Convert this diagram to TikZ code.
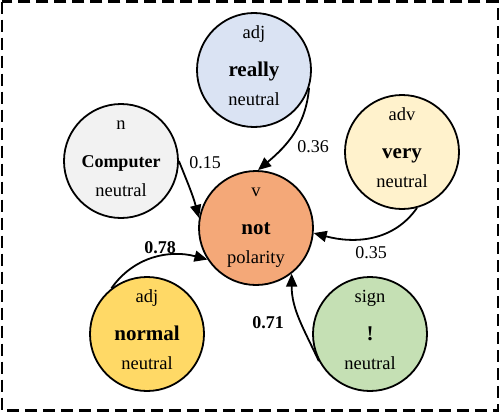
\documentclass[tikz,border=0pt]{standalone}
\usepackage{fontspec}
\setmainfont{Liberation Serif}
\usetikzlibrary{arrows.meta}
\definecolor{cgray}{HTML}{F2F2F2}
\definecolor{cblue}{HTML}{DAE3F3}
\definecolor{cyel}{HTML}{FFF2CC}
\definecolor{corg}{HTML}{F4A878}
\definecolor{cgold}{HTML}{FFD966}
\definecolor{cgreen}{HTML}{C5E0B4}
\tikzset{
  bub/.style={circle,draw=black,line width=1.8pt,minimum size=114pt,inner sep=0pt},
  toptxt/.style={anchor=base,font=\fontsize{18.5}{20}\selectfont,inner sep=0pt},
  midtxt/.style={anchor=base,font=\fontsize{21}{23}\selectfont\bfseries,inner sep=0pt},
  bottxt/.style={anchor=base,font=\fontsize{18.5}{20}\selectfont,inner sep=0pt},
  edge/.style={draw=black,line width=1.8pt,-{Triangle[length=13pt,width=11pt]}},
  wlab/.style={font=\fontsize{18}{20}\selectfont,inner sep=0pt},
  wlabb/.style={font=\fontsize{18}{20}\selectfont\bfseries,inner sep=0pt},
}
\newcommand\mybubble[7]{%
  \node[bub,fill=#4] (#1) at (#2,#3) {};
  \node[toptxt] (#1-t) at ([yshift=32pt]#1.center) {#5};
  \node[midtxt] (#1-m) at ([yshift=-6pt]#1.center) {#6};
  \node[bottxt] (#1-b) at ([yshift=-35pt]#1.center) {#7};
}
\begin{document}
\begin{tikzpicture}[x=1pt,y=1pt]
\useasboundingbox (0,0) rectangle (500,-412);
\draw[line width=2.2pt,dash pattern=on 12pt off 6pt] (1.6,-1.6) rectangle (498.2,-410.4);
\mybubble{comp}{121}{-161}{cgray}{n}{\fontsize{18}{20}\selectfont Computer}{neutral}
\mybubble{really}{254}{-70}{cblue}{adj}{really}{neutral}
\mybubble{very}{402}{-152}{cyel}{adv}{very}{neutral}
\mybubble{not}{256}{-228}{corg}{v}{not}{polarity}
\mybubble{normal}{147}{-334}{cgold}{adj}{normal}{neutral}
\mybubble{sign}{370}{-334}{cgreen}{sign}{!}{neutral}
\draw[edge] (comp.0) to[out=-68,in=105] (not.170);
\draw[edge] (really.-18) to[out=-95,in=40] (not.88);
\draw[edge] (very.-75) to[out=-125,in=-15] (not.-5);
\draw[edge] (normal.128) to[out=55,in=165] (not.213);
\draw[edge] (sign.208) to[out=115,in=-90] (not.-52);
\node[wlab] (l15) at (205,-163) {0.15};
\node[wlab] (l36) at (313,-147) {0.36};
\node[wlab] (l35) at (371,-253) {0.35};
\node[wlabb] (l78) at (160,-248) {0.78};
\node[wlabb] (l71) at (268,-323) {0.71};
\end{tikzpicture}
\end{document}
